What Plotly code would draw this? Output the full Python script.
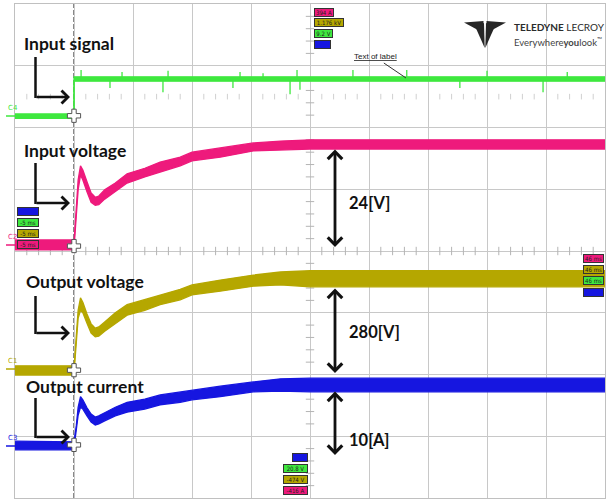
import plotly.graph_objects as go
import numpy as np

# ---------------- data (time in ms, level in screen divisions from bottom) ----------------
t_ms = [-5, -0.2, 0, 0.2, 0.35, 0.55, 0.75, 1.1, 1.45, 1.8, 2.1, 2.6, 3.5, 4.5, 6, 7.3,
        9, 10, 12.4, 15.2, 17.5, 20, 27.5, 36, 45]

# C2 input voltage (pink) band: upper / lower edge of noisy trace
c2_hi = [4.18, 4.18, 4.13, 4.75, 5.15, 5.38, 5.31, 5.12, 4.94, 4.87, 4.89, 4.99, 5.10, 5.25,
         5.34, 5.44, 5.52, 5.60, 5.67, 5.75, 5.78, 5.80, 5.80, 5.80, 5.80]
c2_lo = [4.02, 4.02, 4.05, 4.63, 4.99, 5.23, 5.15, 4.96, 4.79, 4.74, 4.75, 4.84, 4.96, 5.10,
         5.20, 5.28, 5.38, 5.46, 5.52, 5.62, 5.64, 5.65, 5.65, 5.65, 5.65]

# C1 output voltage (olive)
c1_hi = [2.14, 2.14, 2.11, 2.64, 3.04, 3.24, 3.17, 2.98, 2.82, 2.75, 2.77, 2.85, 3.00, 3.13,
         3.21, 3.29, 3.38, 3.45, 3.53, 3.61, 3.66, 3.68, 3.68, 3.68, 3.68]
c1_lo = [1.99, 1.99, 2.02, 2.53, 2.91, 3.04, 3.00, 2.83, 2.67, 2.61, 2.62, 2.70, 2.83, 2.96,
         3.04, 3.13, 3.21, 3.29, 3.35, 3.43, 3.45, 3.42, 3.42, 3.42, 3.42]

# C3 output current (blue)
c3_hi = [0.92, 0.92, 0.91, 1.18, 1.47, 1.64, 1.59, 1.46, 1.36, 1.31, 1.33, 1.38, 1.47, 1.55,
         1.60, 1.67, 1.72, 1.75, 1.81, 1.88, 1.93, 1.94, 1.94, 1.94, 1.94]
c3_lo = [0.78, 0.78, 0.81, 1.07, 1.34, 1.47, 1.44, 1.33, 1.23, 1.18, 1.20, 1.25, 1.33, 1.39,
         1.44, 1.51, 1.55, 1.59, 1.64, 1.72, 1.73, 1.72, 1.72, 1.72, 1.72]

# C4 input signal (green)
c4_t = [-5, 0, 0, 45]
c4_hi = [6.22, 6.22, 6.82, 6.82]
c4_lo = [6.15, 6.15, 6.75, 6.75]
c4_mid = 6.78
c4_spike_t = [0.6, 3.05, 4.07, 7.54, 7.97, 13.47, 14.07, 16.02, 18.31, 18.9, 19.15, 23.64,
              28.2, 32.7, 35.0, 39.75, 41.8]
c4_spike_y = [6.93, 6.64, 6.90, 6.57, 6.92, 6.64, 6.90, 6.88, 6.54, 6.93, 6.61, 6.93,
              6.93, 6.64, 6.92, 6.57, 6.90]

baseline_div = [6.19, 4.08, 2.07, 0.86]   # C4, C2, C1, C3 ground levels

GREEN = '#3ee83e'
PINK = '#ee1a7c'
OLIVE = '#b5a700'
BLUE = '#1616e0'

# ---------------- figure ----------------
fig = go.Figure()


def band(x, hi, lo, col):
    fig.add_trace(go.Scatter(x=x, y=hi, mode='lines', line=dict(color=col, width=1.3),
                             hoverinfo='skip', showlegend=False))
    fig.add_trace(go.Scatter(x=x, y=lo, mode='lines', line=dict(color=col, width=1.3),
                             fill='tonexty', fillcolor=col, hoverinfo='skip', showlegend=False))


# minor ticks on centre lines (decoration from the axis grid)
hx = [v for v in np.arange(-5, 45.001, 1.0) if abs(v % 5) > 1e-6]
vy = [v for v in np.arange(0, 8.001, 0.2) if abs(v - round(v)) > 1e-6]
fig.add_trace(go.Scatter(x=hx, y=[4] * len(hx), mode='markers', hoverinfo='skip',
                         marker=dict(symbol='line-ns', size=6, line=dict(color='#b4b4b4', width=1))))
fig.add_trace(go.Scatter(x=[20] * len(vy), y=vy, mode='markers', hoverinfo='skip',
                         marker=dict(symbol='line-ew', size=6, line=dict(color='#b4b4b4', width=1))))
fig.add_trace(go.Scatter(x=hx, y=[6.5] * len(hx), mode='markers', hoverinfo='skip',
                         marker=dict(symbol='line-ns', size=4, line=dict(color='#d0d0d0', width=1))))

band(c4_t, c4_hi, c4_lo, GREEN)
sx, sy = [], []
for t, y in zip(c4_spike_t, c4_spike_y):
    sx += [t, t, None]
    sy += [c4_mid, y, None]
fig.add_trace(go.Scatter(x=sx, y=sy, mode='lines', line=dict(color=GREEN, width=1.3),
                         hoverinfo='skip', showlegend=False))
band(t_ms, c2_hi, c2_lo, PINK)
band(t_ms, c1_hi, c1_lo, OLIVE)
band(t_ms, c3_hi, c3_lo, BLUE)

# trigger cross markers
fig.add_trace(go.Scatter(x=[0] * 4, y=baseline_div, mode='markers', hoverinfo='skip',
                         marker=dict(symbol='cross', size=11, color='white',
                                     line=dict(color='#555', width=1))))

# ---------------- decorations in pixel space ----------------
L, T, PW, PH = 15, 4, 590, 494


def PX(px):
    return (px - L) / PW


def PY(py):
    return (T + PH - py) / PH


ann = []
shapes = []
FONT = 'Lato, Liberation Sans, sans-serif'

# trigger line
shapes.append(dict(type='line', x0=0, x1=0, y0=0, y1=8, xref='x', yref='y', layer='below',
                   line=dict(color='#111', width=1, dash='5px,2px')))

labels = [('Input signal', 22, 43), ('Input voltage', 22, 150),
          ('Output voltage', 24, 281), ('Output current', 24, 387)]
for txt, x, y in labels:
    ann.append(dict(text='<b>%s</b>' % txt, x=PX(x), y=PY(y), xref='paper', yref='paper',
                    xanchor='left', yanchor='middle', showarrow=False,
                    font=dict(family=FONT, size=17.5, color='#111')))

# L-shaped arrows
for y0, y1 in [(57, 97), (163, 203), (296, 333), (398, 437)]:
    shapes.append(dict(type='line', xref='paper', yref='paper', x0=PX(35.5), x1=PX(35.5),
                       y0=PY(y0), y1=PY(y1 + 1), line=dict(color='#111', width=2.5)))
    ann.append(dict(text='', x=PX(70), y=PY(y1), xref='paper', yref='paper', ax=-35, ay=0,
                    showarrow=True, arrowhead=4, arrowsize=1, arrowwidth=2.5, arrowcolor='#111'))

# double arrows and values
for (ya, yb), txt, ty in [((148, 247), '24[V]', 203), ((287, 373), '280[V]', 332),
                          ((390, 455), '10[A]', 440)]:
    ann.append(dict(text='', x=PX(335), y=PY(yb), xref='paper', yref='paper', ax=0, ay=-(yb - ya),
                    showarrow=True, arrowhead=4, startarrowhead=4, arrowside='end+start',
                    arrowsize=1, arrowwidth=2.8, arrowcolor='#111'))
    ann.append(dict(text='<b>%s</b>' % txt, x=PX(347), y=PY(ty), xref='paper', yref='paper',
                    xanchor='left', yanchor='middle', showarrow=False,
                    font=dict(family=FONT, size=16.5, color='#111')))

# channel labels with ground markers
for name, col, by in [('C4', GREEN, 116), ('C2', PINK, 245), ('C1', OLIVE, 369), ('C3', BLUE, 446)]:
    ann.append(dict(text=name, x=PX(6), y=PY(by - 2), xref='paper', yref='paper',
                    xanchor='left', yanchor='bottom', showarrow=False,
                    font=dict(family='DejaVu Sans', size=7, color=col)))
    shapes.append(dict(type='line', xref='paper', yref='paper', x0=PX(6), x1=PX(15),
                       y0=PY(by), y1=PY(by), line=dict(color=col, width=1.5)))


# badges
def badge(txt, col, x, y, w):
    ann.append(dict(text=txt if txt else ' ', x=PX(x), y=PY(y), xref='paper', yref='paper',
                    xanchor='left', yanchor='middle', showarrow=False, bgcolor=col,
                    bordercolor='#333', borderwidth=1, borderpad=0, width=w, height=7,
                    font=dict(family='DejaVu Sans Condensed, sans-serif', size=6, color='#222')))


for txt, col, y, w in [('394 A', PINK, 12.5, 18), ('1.176 kV', OLIVE, 23, 28),
                       ('9.2 V', GREEN, 33.5, 17), ('', BLUE, 45, 15)]:
    badge(txt, col, 314, y, w)
for txt, col, y in [('', BLUE, 211), ('-5 ms', GREEN, 222.5), ('-5 ms', OLIVE, 233),
                    ('-5 ms', PINK, 244)]:
    badge(txt, col, 17, y, 20)
for txt, col, y in [('46 ms', PINK, 258.5), ('46 ms', OLIVE, 269.5), ('46 ms', GREEN, 280.5),
                    ('', BLUE, 292)]:
    badge(txt, col, 583, y, 19)
badge('', BLUE, 292, 457.5, 14)
for txt, col, y in [('20.8 V', GREEN, 468), ('-474 V', OLIVE, 479), ('-416 A', PINK, 490)]:
    badge(txt, col, 283, y, 23)

# "Text of label" callout
ann.append(dict(text='<u>Text of label</u>', x=PX(406), y=PY(78), xref='paper', yref='paper',
                ax=-31, ay=-21, showarrow=True, arrowhead=0, arrowwidth=1, arrowcolor='#333',
                font=dict(family='Liberation Sans, sans-serif', size=8, color='#222')))

# Teledyne LeCroy logo
tri = [[(464, 22.5), (483.5, 21), (483.5, 33)], [(506, 22.5), (486.5, 21), (486.5, 33)],
       [(475, 26), (484, 23), (484.7, 48)], [(495, 26), (486, 23), (485.3, 48)]]
for pts in tri:
    path = 'M ' + ' L '.join('%f,%f' % (PX(a), PY(b)) for a, b in pts) + ' Z'
    shapes.append(dict(type='path', xref='paper', yref='paper', path=path,
                       fillcolor='#262626', line=dict(width=0)))
ann.append(dict(text='<b>TELEDYNE</b> LECROY', x=PX(512), y=PY(27), xref='paper', yref='paper',
                xanchor='left', yanchor='middle', showarrow=False,
                font=dict(family='Lato, sans-serif', size=10, color='#2b2b2b')))
ann.append(dict(text='Everywhere<b>you</b>look<sup>™</sup>', x=PX(512), y=PY(42), xref='paper',
                yref='paper', xanchor='left', yanchor='middle', showarrow=False,
                font=dict(family='Lato, sans-serif', size=9.5, color='#444')))

axis_common = dict(showgrid=True, gridcolor='#c8c8c8', gridwidth=1, zeroline=False,
                   showticklabels=False, ticks='', showline=True, linecolor='#c0c0c0',
                   linewidth=1, mirror=True, fixedrange=True)
fig.update_layout(
    width=607, height=499,
    margin=dict(l=L, r=607 - L - PW, t=T, b=499 - T - PH, autoexpand=False),
    paper_bgcolor='white', plot_bgcolor='white', showlegend=False,
    xaxis=dict(range=[-5, 45], tick0=-5, dtick=5, **axis_common),
    yaxis=dict(range=[0, 8], tick0=0, dtick=1, **axis_common),
    annotations=ann, shapes=shapes,
)

fig.write_html('out.html', config={'displayModeBar': False},
               post_script="document.body.style.margin='0px';document.body.style.overflow='hidden';")
